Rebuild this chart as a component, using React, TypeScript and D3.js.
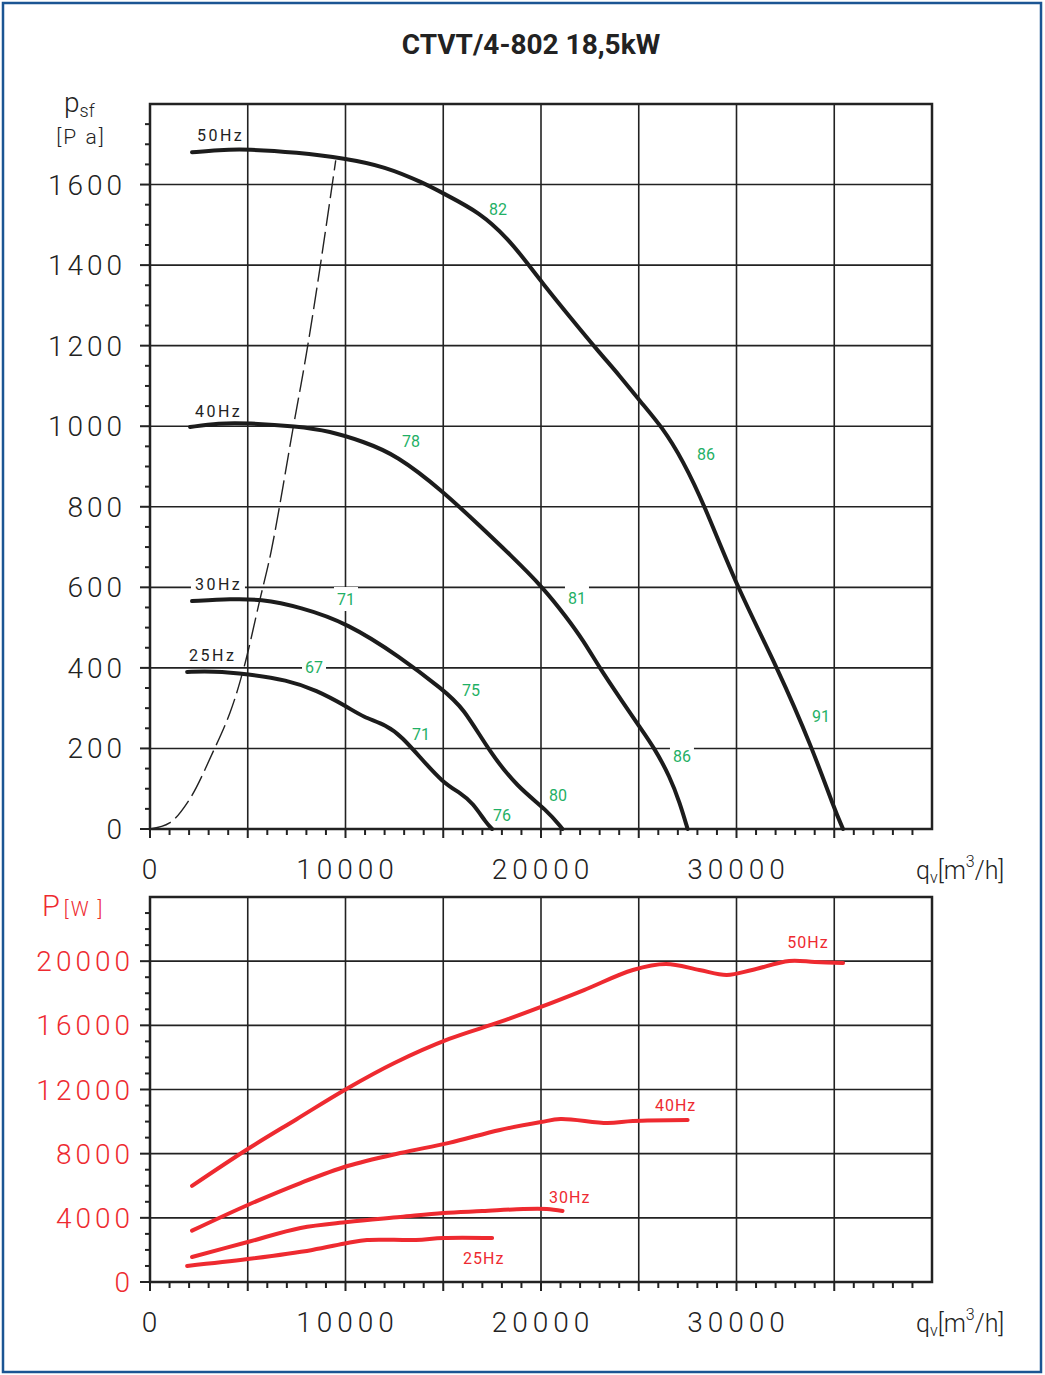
import * as React from "react";
import { scaleLinear, line as d3Line, curveBasis, curveCatmullRom, range } from "d3";

// pressure curves, [qv m3/h, psf Pa]
const p50 = [
  [2150, 1680], [3500, 1686], [5000, 1688], [7500, 1680], [10000, 1665],
  [12000, 1645], [14000, 1604], [15000, 1578], [16900, 1530], [18300, 1466],
  [19300, 1405], [20000, 1360], [21600, 1264], [23000, 1182], [24000, 1127],
  [25050, 1063], [26200, 998], [27250, 916], [28400, 800], [30000, 603],
  [32100, 400], [33900, 198], [35000, 50], [35450, 0],
];
const p40 = [
  [2050, 998], [3500, 1008], [5000, 1008], [7500, 1000], [9200, 988],
  [10900, 962], [12600, 929], [15000, 838], [16900, 751], [18400, 682],
  [20100, 600], [21300, 526], [22150, 469], [23000, 400], [24000, 328],
  [25050, 253], [25800, 201], [26600, 129], [27100, 65], [27500, 0],
];
const p30 = [
  [2150, 566], [4200, 571], [5600, 571], [7700, 551], [10100, 511],
  [12800, 427], [15000, 345], [16000, 303], [17400, 189], [18800, 104],
  [20300, 47], [21100, 0],
];
const p25 = [
  [1900, 390], [3200, 392], [5000, 385], [7000, 370], [8500, 345],
  [10100, 303], [10900, 278], [12100, 258], [12900, 228], [13800, 179],
  [15000, 114], [15900, 89], [16500, 65], [17200, 15], [17500, 0],
];
// system line (dashed)
const pSystem = [
  [0, 0], [1000, 15], [2000, 72], [3200, 189], [4100, 290], [4800, 400],
  [5600, 565], [6200, 690], [7300, 990], [8000, 1180], [8700, 1395], [9500, 1660],
];

// power curves, [qv m3/h, P W]
const w50 = [
  [2150, 5990], [5000, 8290], [7500, 10150], [10000, 12000], [12500, 13650],
  [15300, 15150], [17900, 16210], [20000, 17150], [22200, 18200], [24700, 19450],
  [26400, 19820], [28100, 19450], [29500, 19140], [30800, 19450], [32700, 20010],
  [34000, 19950], [35450, 19890],
];
const w40 = [
  [2150, 3200], [5000, 4800], [7700, 6170], [10100, 7230], [12800, 8040],
  [15300, 8670], [17900, 9480], [20000, 9970], [21000, 10160], [23400, 9910],
  [24700, 10040], [27500, 10100],
];
const w30 = [
  [2150, 1560], [5000, 2490], [7700, 3370], [10100, 3740], [12800, 4050],
  [15000, 4300], [17000, 4420], [19100, 4550], [20300, 4550], [21100, 4430],
];
const w25 = [
  [1900, 1000], [5000, 1430], [8300, 2000], [10100, 2430], [11100, 2620],
  [13600, 2620], [15000, 2740], [17500, 2740],
];

// efficiency labels on pressure chart [q, p, text, white background]
const effLabels: [number, number, string, boolean][] = [
  [17800, 1540, "82", false],
  [28440, 931, "86", false],
  [13350, 963, "78", false],
  [21840, 574, "81", true],
  [10025, 571, "71", true],
  [16420, 345, "75", false],
  [27210, 181, "86", true],
  [34320, 281, "91", true],
  [8390, 402, "67", true],
  [13860, 236, "71", false],
  [20870, 84, "80", false],
  [18000, 35, "76", false],
];
// frequency labels [q, value at baseline, text]
const pressFreq: [number, number, string][] = [
  [2400, 1708, "50Hz"],
  [2300, 1022, "40Hz"],
  [2300, 593, "30Hz"],
  [2000, 417, "25Hz"],
];
const powerFreq: [number, number, string][] = [
  [32600, 20820, "50Hz"],
  [25830, 10660, "40Hz"],
  [20410, 4925, "30Hz"],
  [16010, 1120, "25Hz"],
];

const xTickLabels = [0, 10000, 20000, 30000];
const pTickLabels = [0, 200, 400, 600, 800, 1000, 1200, 1400, 1600];
const wTickLabels = [0, 4000, 8000, 12000, 16000, 20000];

const INK = "#222";
const GREEN = "#1fb065";
const RED = "#ee2a30";
const NUM_FONT = "Roboto, 'DejaVu Sans', sans-serif";

const App = () => {
  const left = 150;
  const right = 932;
  const xP = scaleLinear().domain([0, 40000]).range([left, right]);
  const yP = scaleLinear().domain([0, 1800]).range([829, 104]);
  const yW = scaleLinear().domain([0, 24000]).range([1282, 897]);

  const lineP = d3Line<number[]>()
    .x(d => xP(d[0]))
    .y(d => yP(d[1]))
    .curve(curveBasis);
  const lineSys = d3Line<number[]>()
    .x(d => xP(d[0]))
    .y(d => yP(d[1]))
    .curve(curveCatmullRom.alpha(0.5));
  const lineW = d3Line<number[]>()
    .x(d => xP(d[0]))
    .y(d => yW(d[1]))
    .curve(curveCatmullRom.alpha(0.5));

  const frame = (y: any, minorStep: number, majorStep: number, yMax: number, gridStep: number) => {
    const y0 = y(0);
    const yTop = y(yMax);
    return (
      <g>
        {range(0, 40001, 5000).map(v => (
          <line key={"vg" + v} x1={xP(v)} x2={xP(v)} y1={yTop} y2={y0} stroke={INK} strokeWidth={1.6} />
        ))}
        {range(0, yMax + 1, gridStep).map(v => (
          <line key={"hg" + v} x1={left} x2={right} y1={y(v)} y2={y(v)} stroke={INK} strokeWidth={1.6} />
        ))}
        {range(0, 40000, 1000).map(v => (
          <line key={"xt" + v} x1={xP(v)} x2={xP(v)} y1={y0} y2={y0 + (v % 5000 === 0 ? 9 : 6)} stroke={INK} strokeWidth={2} />
        ))}
        {range(0, yMax, minorStep).map(v => (
          <line key={"yt" + v} x1={left - (v % majorStep === 0 ? 10 : 5)} x2={left} y1={y(v)} y2={y(v)} stroke={INK} strokeWidth={2} />
        ))}
        <rect x={left} y={yTop} width={right - left} height={y0 - yTop} fill="none" stroke={INK} strokeWidth={2.5} />
      </g>
    );
  };

  const qvTitle = (yBase: number) => (
    <text x={916} y={yBase} fontFamily={NUM_FONT} fontWeight={300} fontSize={25} fill={INK}>
      q<tspan fontSize={16} dy={4}>v</tspan>
      <tspan dy={-4}>[m</tspan>
      <tspan fontSize={16} dy={-12}>3</tspan>
      <tspan dy={12}>/h]</tspan>
    </text>
  );

  return (
    <svg width={1045} height={1375} style={{ position: "absolute", left: 0, top: 0, background: "#fff" }}>
      <rect x={3} y={3} width={1038} height={1369} fill="#fff" stroke="#1b5593" strokeWidth={2.5} />
      <text x={531} y={54} textAnchor="middle" fontFamily="Roboto, sans-serif" fontWeight={700} fontSize={28} fill={INK}>
        CTVT/4-802 18,5kW
      </text>

      {/* pressure chart */}
      {frame(yP, 50, 200, 1800, 200)}
      {pTickLabels.map(v => (
        <text key={"pl" + v} x={126} y={yP(v) + 10} textAnchor="end" fontFamily={NUM_FONT} fontWeight={300} fontSize={28} letterSpacing={4} fill={INK}>
          {v}
        </text>
      ))}
      {xTickLabels.map(v => (
        <text key={"xl" + v} x={xP(v) + 2} y={yP(0) + 50} textAnchor="middle" fontFamily={NUM_FONT} fontWeight={300} fontSize={28} letterSpacing={5} fill={INK}>
          {v}
        </text>
      ))}
      <text x={64} y={112} fontFamily={NUM_FONT} fontWeight={300} fontSize={28} fill={INK}>
        p<tspan fontSize={18} dy={5}>sf</tspan>
      </text>
      <text x={81} y={144} textAnchor="middle" fontFamily={NUM_FONT} fontWeight={300} fontSize={21} letterSpacing={2} fill={INK}>
        [P a]
      </text>
      {qvTitle(879)}

      <path d={lineSys(pSystem) || ""} fill="none" stroke={INK} strokeWidth={1.4} strokeDasharray="22,6" />
      {[p50, p40, p30, p25].map((s, i) => (
        <path key={"pc" + i} d={lineP(s) || ""} fill="none" stroke="#1c1c1c" strokeWidth={4} strokeLinecap="round" />
      ))}
      {pressFreq.map(([q, v, t], i) => (
        <g key={"pf" + i}>
          {i === 2 && <rect x={xP(q) - 4} y={yP(v) - 14} width={54} height={18} fill="#fff" />}
          <text x={xP(q)} y={yP(v)} fontFamily={NUM_FONT} fontSize={16} letterSpacing={2.5} fill={INK}>
            {t}
          </text>
        </g>
      ))}
      {effLabels.map(([q, v, t, bg], i) => (
        <g key={"ef" + i}>
          {bg && <rect x={xP(q) - 12} y={yP(v) - 12} width={24} height={24} fill="#fff" />}
          <text x={xP(q)} y={yP(v) + 6} textAnchor="middle" fontFamily={NUM_FONT} fontSize={16} fill={GREEN}>
            {t}
          </text>
        </g>
      ))}

      {/* power chart */}
      {frame(yW, 1000, 4000, 24000, 4000)}
      {wTickLabels.map(v => (
        <text key={"wl" + v} x={134} y={yW(v) + 10} textAnchor="end" fontFamily={NUM_FONT} fontWeight={300} fontSize={28} letterSpacing={4} fill={RED}>
          {v}
        </text>
      ))}
      {xTickLabels.map(v => (
        <text key={"xw" + v} x={xP(v) + 2} y={yW(0) + 50} textAnchor="middle" fontFamily={NUM_FONT} fontWeight={300} fontSize={28} letterSpacing={5} fill={INK}>
          {v}
        </text>
      ))}
      <text x={42} y={916} fontFamily={NUM_FONT} fontWeight={300} fontSize={29} fill={RED}>
        P<tspan fontSize={20} dx={4} letterSpacing={2}>[W ]</tspan>
      </text>
      {qvTitle(1332)}

      {[w50, w40, w30, w25].map((s, i) => (
        <path key={"wc" + i} d={lineW(s) || ""} fill="none" stroke={RED} strokeWidth={4} strokeLinecap="round" />
      ))}
      {powerFreq.map(([q, v, t], i) => (
        <text key={"wf" + i} x={xP(q)} y={yW(v)} fontFamily={NUM_FONT} fontSize={16} letterSpacing={1} fill={RED}>
          {t}
        </text>
      ))}
    </svg>
  );
};

export default App;
